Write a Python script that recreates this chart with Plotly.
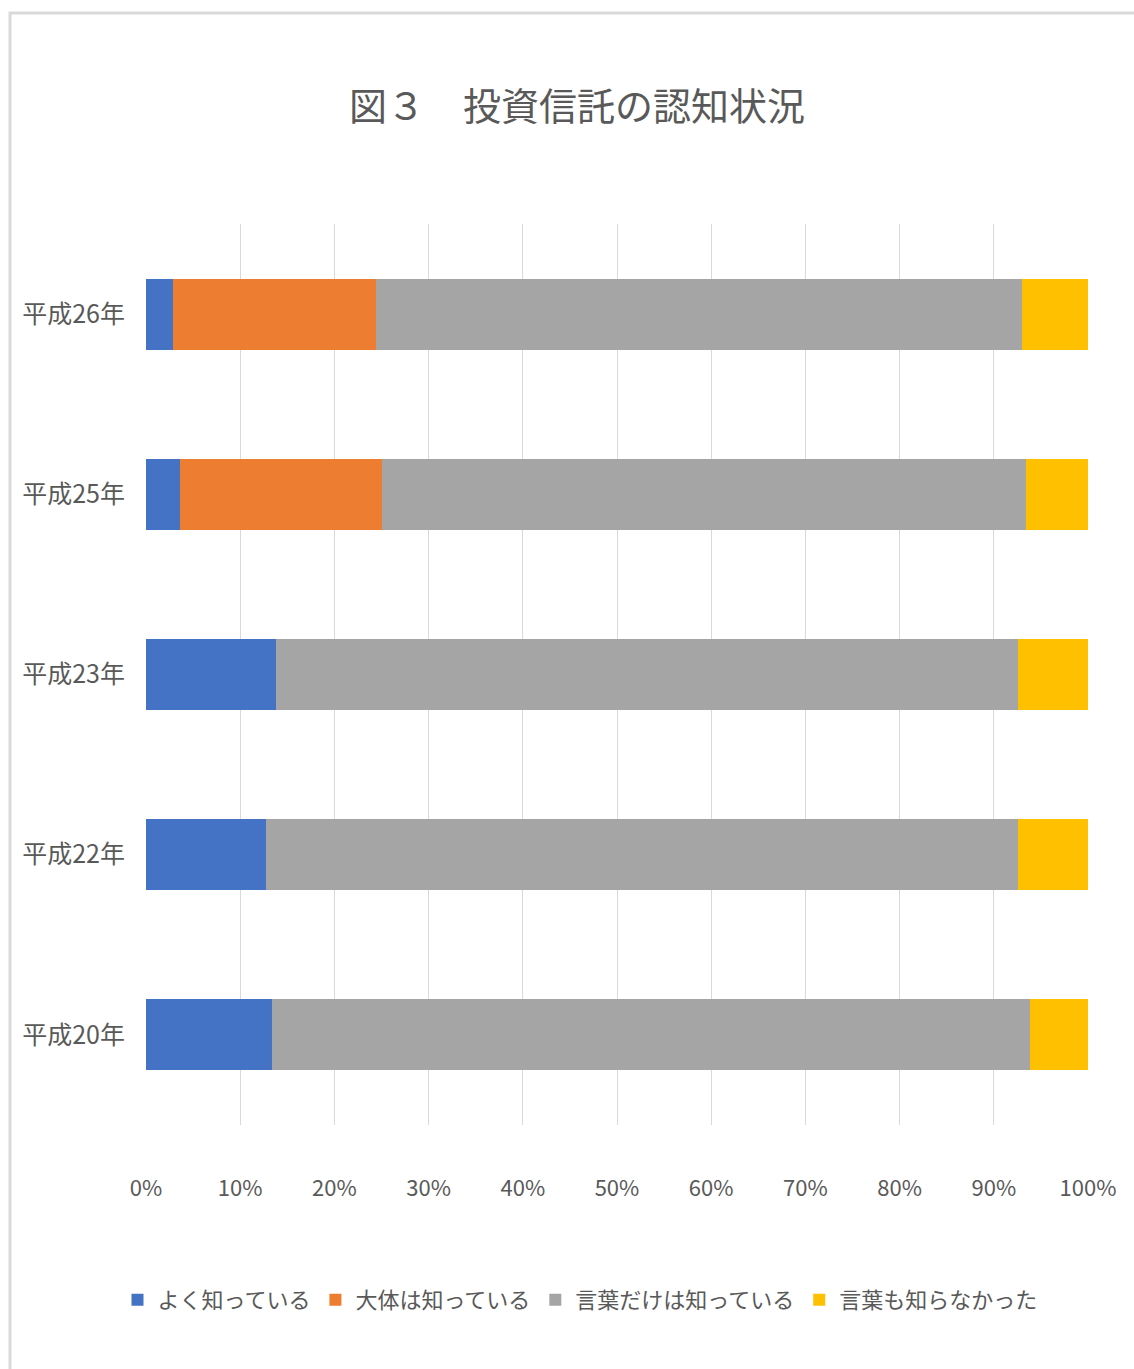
import plotly.graph_objects as go

# Survey years (top to bottom) and answer shares in percent
years = ["平成26年", "平成25年", "平成23年", "平成22年", "平成20年"]
series_names = ["よく知っている", "大体は知っている", "言葉だけは知っている", "言葉も知らなかった"]
well_known = [2.9, 3.6, 13.8, 12.7, 13.4]
mostly_known = [21.5, 21.4, 0.0, 0.0, 0.0]
word_only = [68.6, 68.4, 78.8, 79.9, 80.4]
not_known = [7.0, 6.6, 7.4, 7.4, 6.2]
series_values = [well_known, mostly_known, word_only, not_known]
series_colors = ["#4472C4", "#ED7D31", "#A5A5A5", "#FFC000"]

x_ticks = [0, 10, 20, 30, 40, 50, 60, 70, 80, 90, 100]
x_tick_labels = [f"{v}%" for v in x_ticks]

jp_font = "Noto Sans CJK JP"
text_color = "#595959"

fig = go.Figure()
for name, vals, color in zip(series_names, series_values, series_colors):
    fig.add_trace(go.Bar(
        y=years,
        x=vals,
        name=name,
        orientation="h",
        marker=dict(color=color, line=dict(width=0)),
        hoverinfo="name+x",
    ))

W, H = 1134, 1369
L, R, T, B = 146, 46, 224, 244
plot_w = W - L - R
plot_h = H - T - B

def px_x(p):
    return (p - L) / plot_w

def px_y(p):
    return (H - B - p) / plot_h

fig.update_layout(
    width=W,
    height=H,
    barmode="stack",
    bargap=0.605,
    paper_bgcolor="white",
    plot_bgcolor="white",
    margin=dict(l=L, r=R, t=T, b=B),
    font=dict(family=jp_font, color=text_color),
    title=dict(
        text="図３　投資信託の認知状況",
        font=dict(family=jp_font, size=38, color=text_color),
        x=577 / W, xref="container", xanchor="center",
        y=1 - 107 / H, yref="container", yanchor="middle",
    ),
    xaxis=dict(
        range=[0, 100],
        tickvals=x_ticks,
        ticktext=x_tick_labels,
        showgrid=True,
        gridcolor="#D9D9D9",
        gridwidth=1,
        zeroline=False,
        showline=False,
        ticks="",
        ticklabelstandoff=48,
        tickfont=dict(family=jp_font, size=22, color=text_color),
        fixedrange=True,
    ),
    yaxis=dict(
        autorange="reversed",
        showgrid=False,
        zeroline=False,
        showline=False,
        ticks="",
        ticklabelstandoff=20,
        tickfont=dict(family=jp_font, size=25, color=text_color),
        fixedrange=True,
    ),
    legend=dict(
        orientation="h",
        x=580 / W, xref="container", xanchor="center",
        y=1 - 1300 / H, yref="container", yanchor="middle",
        font=dict(family=jp_font, size=22, color=text_color),
        traceorder="normal",
        itemclick=False,
        itemwidth=30,
    ),
    shapes=[
        dict(
            type="rect", xref="paper", yref="paper",
            x0=px_x(10), x1=px_x(W + 20), y0=px_y(H + 20), y1=px_y(13),
            line=dict(color="#D9D9D9", width=3),
            fillcolor="rgba(0,0,0,0)", layer="below",
        )
    ],
)

fig.write_html("out.html")
